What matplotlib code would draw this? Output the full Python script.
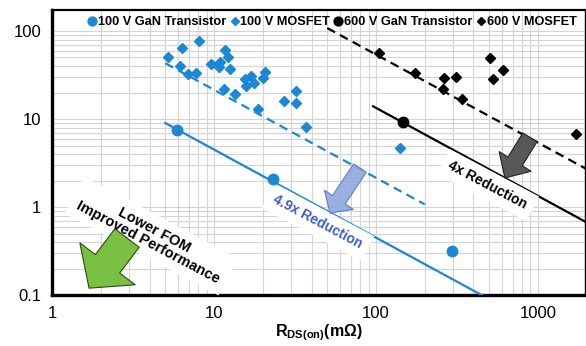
import matplotlib
matplotlib.use("Agg")
import matplotlib.pyplot as plt
import numpy as np

plt.rcParams['font.family'] = ['Liberation Sans', 'DejaVu Sans']
plt.rcParams['mathtext.fontset'] = 'custom'
plt.rcParams['mathtext.rm'] = 'Liberation Sans'
plt.rcParams['mathtext.bf'] = 'Liberation Sans:bold'

# data (R_DS(on) in mOhm, FOM)
gan100_r = [5.9, 23.1, 294]
gan100_fom = [7.5, 2.08, 0.32]

mos100_r = [5.2, 6.3, 8.1, 6.2, 6.9, 7.7, 9.6, 10.9, 10.7, 11.7, 12.2, 12.6,
            11.5, 13.5, 15.5, 16.9, 15.8, 17.7, 20.1, 20.6, 18.7, 27, 32, 32,
            37, 141]
mos100_fom = [50.7, 64, 77, 40, 32.5, 33.5, 42, 44, 39, 61, 50.7, 37,
              21.9, 19.2, 28.5, 31, 23.7, 25.7, 29.4, 34.2, 13, 16, 20.8, 15.2,
              8.1, 4.7]

gan600_r = [147]
gan600_fom = [9.25]

mos600_r = [104, 174, 263, 312, 259, 340, 505, 608, 527, 1717]
mos600_fom = [56, 33, 29.4, 30, 21.9, 16.9, 49, 36, 28.5, 6.8]

# trend lines: FOM = k / R
trend_mos100 = (215, 5, 200)
trend_gan100 = (45, 5, 450)
trend_mos600 = (5400, 50, 2000)
trend_gan600 = (1340, 96, 2000)

blue = '#1a88d2'

fig = plt.figure(figsize=(5.86, 3.46), dpi=100)
ax = fig.add_axes([0.089, 0.147, 0.909, 0.824])
ax.set_xscale('log')
ax.set_yscale('log')
ax.set_xlim(1, 1950)
ax.set_ylim(0.1, 173)

ax.grid(True, which='both', color='#d4d4d4', lw=0.8, zorder=0)
ax.axhspan(108, 173, color='white', zorder=1)


def trend(k, x0, x1):
    xs = np.array([x0, x1], dtype=float)
    return xs, k / xs


xs, ys = trend(*trend_mos100)
ax.plot(xs, ys, color=blue, lw=1.6, ls=(0, (4, 2.5)), zorder=3)
xs, ys = trend(*trend_gan100)
ax.plot(xs, ys, color=blue, lw=1.6, zorder=3)
xs, ys = trend(*trend_mos600)
ax.plot(xs, ys, color='black', lw=1.6, ls=(0, (4, 2.5)), zorder=3)
xs, ys = trend(*trend_gan600)
ax.plot(xs, ys, color='black', lw=1.6, zorder=3)

ax.plot(gan100_r, gan100_fom, 'o', color=blue, ms=7.5, ls='none', zorder=5,
        label='100 V GaN Transistor')
ax.plot(mos100_r, mos100_fom, 'D', color=blue, ms=4.6, ls='none', zorder=5,
        label='100 V MOSFET')
ax.plot(gan600_r, gan600_fom, 'o', color='black', ms=7.5, ls='none', zorder=5,
        label='600 V GaN Transistor')
ax.plot(mos600_r, mos600_fom, 'D', color='black', ms=4.6, ls='none', zorder=5,
        label='600 V MOSFET')

# annotations
box = dict(facecolor='white', edgecolor='none', pad=5)
ax.text(4.1, 0.47, 'Lower FOM\nImproved Performance', rotation=-28,
        ha='center', va='center', fontsize=10.5, fontweight='bold',
        rotation_mode='anchor', bbox=box, zorder=4, linespacing=1.0)
ax.text(43.9, 0.675, '4.9x Reduction', rotation=-28, ha='center', va='center',
        fontsize=10, fontweight='bold', color='#3a5fc4',
        rotation_mode='anchor', bbox=box, zorder=4)
ax.text(491, 1.78, '4x Reduction', rotation=-28, ha='center', va='center',
        fontsize=10, fontweight='bold', rotation_mode='anchor', bbox=box,
        zorder=4)

ax.annotate('', xy=(1.69, 0.12), xytext=(2.9, 0.445), zorder=6,
            arrowprops=dict(arrowstyle='simple,head_length=2.2,head_width=5,tail_width=2.2',
                            fc='#79c043', ec='#2e4a12', lw=0.8,
                            shrinkA=0, shrinkB=0, mutation_scale=10))
ax.annotate('', xy=(626, 2.14), xytext=(893, 6.2), zorder=6,
            arrowprops=dict(arrowstyle='simple,head_length=1.4,head_width=2.7,tail_width=1.2',
                            fc='#585858', ec='#222222', lw=0.8,
                            shrinkA=0, shrinkB=0, mutation_scale=10))
ax.annotate('', xy=(52, 0.855), xytext=(79.6, 2.77), zorder=6,
            arrowprops=dict(arrowstyle='simple,head_length=1.15,head_width=2.5,tail_width=1.1',
                            fc='#8fa8de', ec='#5577c0', lw=0.8, alpha=0.9,
                            shrinkA=0, shrinkB=0, mutation_scale=10))

ax.set_xticks([1, 10, 100, 1000])
ax.set_xticklabels(['1', '10', '100', '1000'])
ax.set_yticks([0.1, 1, 10, 100])
ax.set_yticklabels(['0.1', '1', '10', '100'])
ax.tick_params(which='both', length=0, labelsize=12, pad=8)
ax.minorticks_on()
ax.tick_params(which='minor', labelbottom=False, labelleft=False, length=0)

for side in ['left', 'bottom']:
    ax.spines[side].set_linewidth(2.4)
ax.spines['top'].set_linewidth(1.6)
ax.spines['right'].set_linewidth(1.0)

ax.set_xlabel(r'$\mathbf{R_{DS(on)}(m\Omega)}$', fontsize=11.5, labelpad=1)

leg = ax.legend(loc='upper center', bbox_to_anchor=(0.525, 1.005), ncol=4,
                frameon=False, handletextpad=0.05, columnspacing=0.25,
                handlelength=0.8, borderaxespad=0.2, markerscale=0.85,
                prop=dict(weight='bold', size=9.2))

fig.savefig('out.png', dpi=100, facecolor='white')
